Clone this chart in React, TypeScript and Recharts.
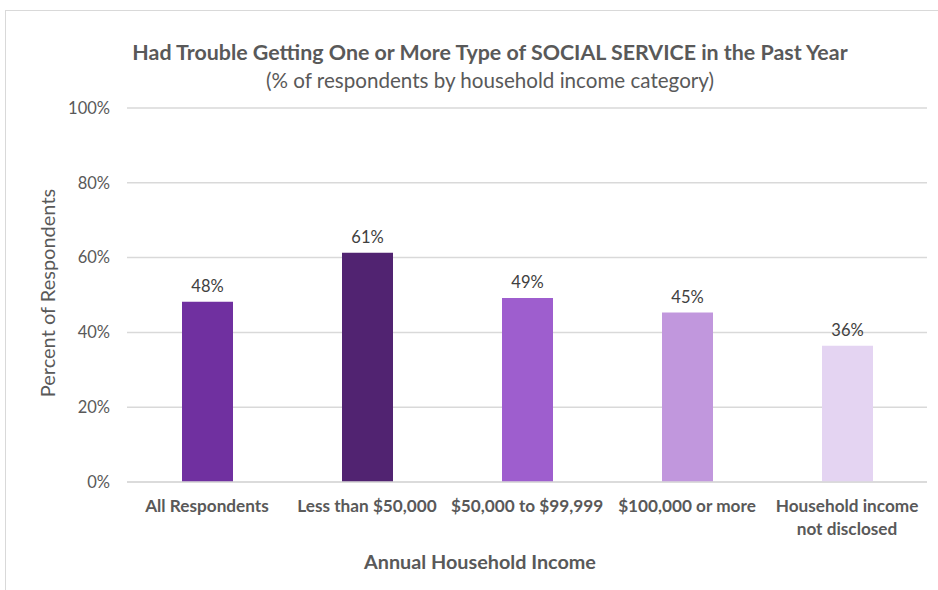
import React from "react";
import { BarChart, Bar, XAxis, YAxis, CartesianGrid, Cell, LabelList } from "recharts";

const categories = ["All Respondents", "Less than $50,000", "$50,000 to $99,999", "$100,000 or more", "Household income\nnot disclosed"];
const values = [48.2, 61.3, 49.2, 45.3, 36.4];
const valueLabels = ["48%", "61%", "49%", "45%", "36%"];
const colors = ["#7030A0", "#512371", "#9E5ECE", "#C197DD", "#E4D4F2"];
const yTicks = [0, 20, 40, 60, 80, 100];

const data = categories.map((c, i) => ({ name: c, value: values[i], label: valueLabels[i] }));

const FONT = "Lato, 'Open Sans', sans-serif";

const XTick = (props: any) => {
  const { x, y, payload } = props;
  const lines = String(payload.value).split("\n");
  return (
    <text x={x} y={y} textAnchor="middle" fill="#595959" fontFamily={FONT} fontSize={17.2} fontWeight={700}>
      {lines.map((l: string, i: number) => (
        <tspan key={i} x={x} dy={i === 0 ? 22 : 23}>{l}</tspan>
      ))}
    </text>
  );
};

export default function App() {
  return (
    <div style={{ position: "absolute", left: 0, top: 0, width: 938, height: 590, background: "#fff", overflow: "hidden" }}>
      <div style={{ position: "absolute", left: 5, top: 10, width: 960, height: 620, borderLeft: "1.5px solid #D9D9D9", borderTop: "1.5px solid #D9D9D9" }} />
      <div style={{ position: "absolute", left: 0, width: 980, top: 39, textAlign: "center", fontFamily: FONT, fontWeight: 700, fontSize: 21.4, color: "#595959", lineHeight: "26px" }}>
        Had Trouble Getting One or More Type of SOCIAL SERVICE in the Past Year
      </div>
      <div style={{ position: "absolute", left: 0, width: 980, top: 67, textAlign: "center", fontFamily: FONT, fontSize: 20.6, color: "#595959", lineHeight: "26px" }}>
        (% of respondents by household income category)
      </div>
      <div style={{ position: "absolute", left: 0, width: 960, top: 548, textAlign: "center", fontFamily: FONT, fontWeight: 700, fontSize: 19.8, color: "#595959", lineHeight: "26px" }}>
        Annual Household Income
      </div>
      <div style={{ position: "absolute", left: 47, top: 293, width: 0, height: 0 }}>
        <div style={{ position: "absolute", transform: "translate(-50%, -50%) rotate(-90deg)", whiteSpace: "nowrap", fontFamily: FONT, fontSize: 20, color: "#595959", lineHeight: "24px" }}>
          Percent of Respondents
        </div>
      </div>
      <div style={{ position: "absolute", left: 0, top: 0 }}>
        <BarChart width={938} height={590} data={data} margin={{ top: 108, right: 11, bottom: 0, left: 0 }}>
          <CartesianGrid vertical={false} stroke="#D9D9D9" strokeWidth={1.5} />
          <XAxis dataKey="name" tick={<XTick />} tickLine={false} axisLine={{ stroke: "#D9D9D9", strokeWidth: 1.5 }} interval={0} height={108} />
          <YAxis domain={[0, 100]} ticks={yTicks} tickFormatter={(v: number) => `${v}%`} width={127} tickLine={false} axisLine={false} tickSize={0} tickMargin={17}
            tick={{ fill: "#595959", fontSize: 16.5, fontFamily: FONT }} />
          <Bar dataKey="value" barSize={51} isAnimationActive={false}>
            {data.map((d, i) => (
              <Cell key={i} fill={colors[i]} />
            ))}
            <LabelList dataKey="label" position="top" offset={10} fill="#404040" fontSize={16.5} fontFamily={FONT} />
          </Bar>
        </BarChart>
      </div>
    </div>
  );
}
